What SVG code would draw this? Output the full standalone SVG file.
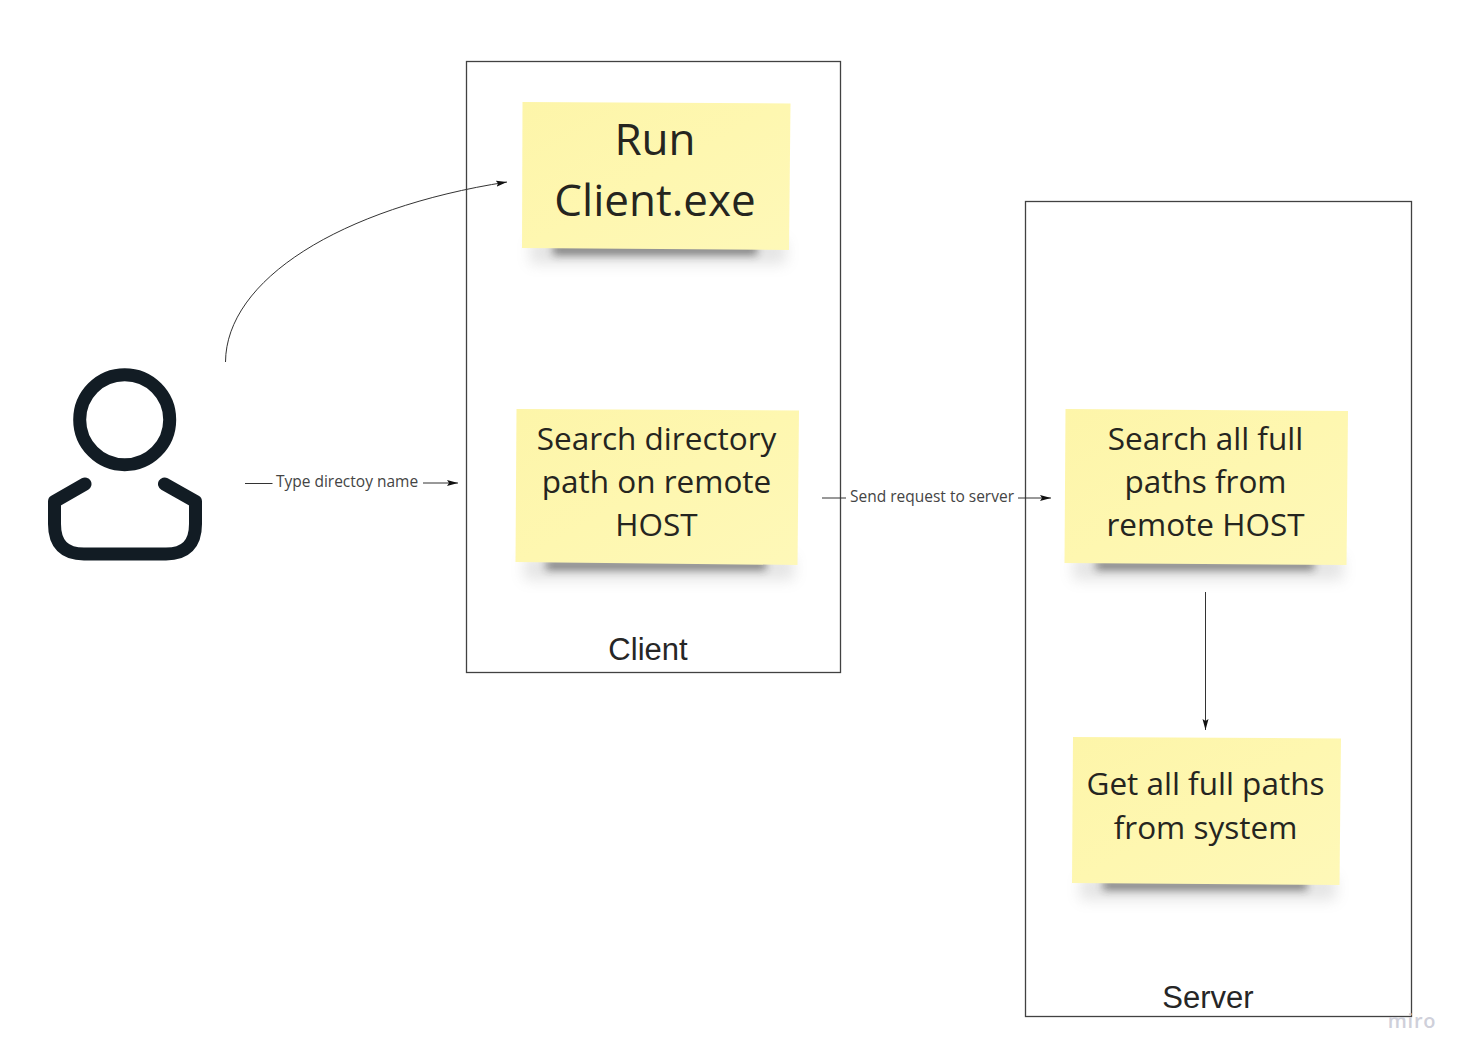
<svg xmlns="http://www.w3.org/2000/svg" width="1469" height="1063" viewBox="0 0 1469 1063">
<style>
.frame{fill:#fff;stroke:#414141;stroke-width:1.3}
.note{fill:url(#noteFill)}
.shadow{fill:#2a2a2a;opacity:.55;filter:url(#soft)}
.halo{fill:#888;opacity:.22;filter:url(#softer)}
.t{font-family:"Open Sans","Noto Sans",sans-serif;fill:#25251f;text-anchor:middle}
.lab{font-family:"Open Sans","Noto Sans",sans-serif;font-size:15.500px;fill:#444;text-anchor:middle}
.cap{font-family:"Liberation Sans",Arial,sans-serif;font-size:31px;fill:#262626;text-anchor:middle}
.con{fill:none;stroke:#333;stroke-width:1}
.icon{fill:none;stroke:#121c24;stroke-width:13;stroke-linecap:round;stroke-linejoin:round}
</style>
<defs>
<linearGradient id="noteFill" x1="0" y1="0" x2="1" y2="1"><stop offset="0" stop-color="#fdf5a9"/><stop offset=".5" stop-color="#fef7b0"/><stop offset="1" stop-color="#fef8b8"/></linearGradient>
<filter id="soft" x="-20%" y="-100%" width="140%" height="300%"><feGaussianBlur stdDeviation="4.500"/></filter>
<filter id="softer" x="-20%" y="-100%" width="140%" height="300%"><feGaussianBlur stdDeviation="7"/></filter>
<marker id="arrow" markerUnits="userSpaceOnUse" markerWidth="12" markerHeight="8" refX="11" refY="4" orient="auto"><path d="M0 1 L11 4 L0 7 L2 4 Z" fill="#111"/></marker>
</defs>
<rect width="1469" height="1063" fill="#fff"/>
<g id="client"><rect class="frame" x="466.500" y="61.500" width="374" height="611"/><text class="cap" x="648" y="660">Client</text></g>
<g id="server"><rect class="frame" x="1025.500" y="201.500" width="386" height="815"/><text class="cap" x="1208" y="1008">Server</text></g>
<g id="note-run">
<rect class="halo" x="530" y="240" width="256" height="24"/><rect class="shadow" x="553" y="244" width="204" height="11"/>
<polygon class="note" points="522.500,102 790.500,103.500 789,250 522,248"/>
<text class="t" font-size="44" x="655" y="155">Run</text><text class="t" font-size="44" x="655" y="216">Client.exe</text></g>
<g id="note-search-dir">
<rect class="halo" x="524" y="556" width="270" height="24"/><rect class="shadow" x="546" y="560" width="220" height="10"/>
<polygon class="note" points="516.500,409 799,410.500 797.500,565 515.500,562"/>
<text class="t" font-size="31.500" x="656.500" y="450">Search directory</text><text class="t" font-size="31.500" x="656.500" y="493">path on remote</text><text class="t" font-size="31.500" x="656.500" y="536">HOST</text></g>
<g id="note-search-paths">
<rect class="halo" x="1073" y="556" width="270" height="24"/><rect class="shadow" x="1096" y="560" width="218" height="10"/>
<polygon class="note" points="1065.500,409 1348,411 1346.500,565 1064.500,563"/>
<text class="t" font-size="31.500" x="1205.500" y="450">Search all full</text><text class="t" font-size="31.500" x="1205.500" y="493">paths from</text><text class="t" font-size="31.500" x="1205.500" y="536">remote HOST</text></g>
<g id="note-get-paths">
<rect class="halo" x="1080" y="876" width="256" height="24"/><rect class="shadow" x="1103" y="880" width="204" height="10"/>
<polygon class="note" points="1073,737 1341,738.500 1339.500,885 1072,883"/>
<text class="t" font-size="31.500" x="1205.500" y="795">Get all full paths</text><text class="t" font-size="31.500" x="1205.500" y="839">from system</text></g>
<g id="user" class="icon"><circle cx="124.700" cy="419.700" r="45"/><path d="M85 484 L54.500 501.500 V524 Q54.500 554 84 554 H166 Q195.500 554 195.500 524 V501.500 L164.500 484"/></g>
<g id="connectors">
<path class="con" d="M225.500 362 C226 280 340 208 507 182" marker-end="url(#arrow)"/>
<path class="con" d="M245 483.500 H272.500"/><path class="con" d="M423 483 H458" marker-end="url(#arrow)"/>
<text class="lab" x="347" y="487">Type directoy name</text>
<path class="con" d="M822 498 H846"/><path class="con" d="M1018 498 H1051" marker-end="url(#arrow)"/>
<text class="lab" x="932" y="502">Send request to server</text>
<path class="con" d="M1205.500 592 V730" marker-end="url(#arrow)"/>
</g>
<text x="1412" y="1028" font-family="'Open Sans','Noto Sans',sans-serif" font-size="20" font-weight="600" fill="#cfd0da" text-anchor="middle" letter-spacing=".8">miro</text>
</svg>
